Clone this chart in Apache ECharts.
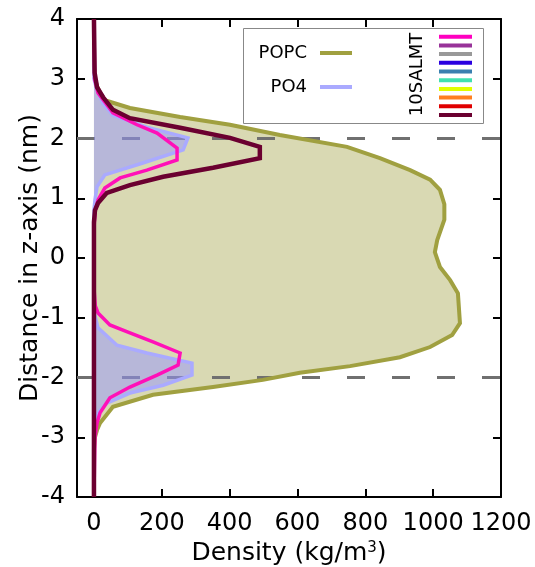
<!DOCTYPE html>
<html><head><meta charset="utf-8">
<script src="https://cdn.jsdelivr.net/npm/echarts@6/dist/echarts.min.js"></script>
<style>html,body{margin:0;padding:0;background:#fff}#c{width:535px;height:567px}</style>
</head><body><div id="c"></div>
<script>
// ---------- data ----------
const popcZ = [4.0, 3.2, 3.0, 2.88, 2.76, 2.64, 2.51, 2.36, 2.23, 2.06, 1.86, 1.67, 1.47, 1.31, 1.14, 0.9, 0.64, 0.3, 0.10, -0.15, -0.37, -0.59, -1.09, -1.29, -1.49, -1.66, -1.81, -1.92, -2.04, -2.16, -2.29, -2.49, -2.76, -2.88, -3.0, -3.2, -4.0];
const popcD = [0, 0, 3, 9, 18, 32, 106, 254, 401, 548, 746, 843, 932, 991, 1020, 1033, 1033, 1012, 1005, 1020, 1050, 1073, 1079, 1056, 991, 902, 755, 607, 498, 351, 174, 56, 18, 9, 3, 0, 0];

const po4Z = [4.0, 3.0, 2.81, 2.6, 2.39, 2.19, 2.01, 1.81, 1.59, 1.39, 1.19, 0.97, 0.8, 0.5, 0.0, -0.5, -0.9, -1.17, -1.46, -1.59, -1.76, -1.96, -2.13, -2.26, -2.43, -2.59, -2.8, -3.0, -4.0];
const po4D = [0, 0, 9, 25, 56, 156, 277, 263, 144, 32, 9, 3, 0, 0, 0, 0, 0, 12, 68, 156, 289, 289, 204, 106, 38, 12, 3, 0, 0];

const saltFirstZ = [4.0, 3.0, 2.76, 2.43, 2.23, 2.09, 1.84, 1.64, 1.47, 1.34, 1.17, 0.97, 0.8, 0.5, 0.0, -0.5, -0.8, -0.92, -1.12, -1.255, -1.405, -1.59, -1.79, -1.96, -2.16, -2.34, -2.59, -2.76, -3.0, -4.0];
const saltFirstD = [0, 2, 12, 56, 127, 186, 245, 245, 156, 77, 32, 12, 4, 0, 0, 0, 4, 12, 47, 106, 174, 254, 248, 186, 106, 47, 18, 9, 3, 0];

const saltLastZ = [4.0, 3.1, 2.86, 2.69, 2.48, 2.34, 2.18, 2.01, 1.86, 1.67, 1.51, 1.36, 1.22, 1.09, 0.92, 0.8, 0.6, 0.0, -4.0];
const saltLastD = [0, 2, 9, 27, 56, 106, 254, 401, 489, 489, 351, 204, 106, 38, 12, 3, 0, 0, 0];

const xTicks = [0, 200, 400, 600, 800, 1000, 1200];
const xRange = [-50, 1200];
const yRange = [-4, 4];
const guideZ = [2, -2];
const legendNames = ['POPC', 'PO4'];
const saltTitle = '10SALMT';
// styles
const saltColors = ['#ff00c0', '#983399', '#999999', '#2a00e0', '#3a80b0', '#40e0b0', '#e0ff00', '#ff8020', '#e00000', '#6b0030'];
const FONT = '"DejaVu Sans", sans-serif';

const pairs = (xs, zs) => zs.map((z, i) => [xs[i], z]);

function fillSeries(name, xs, zs, color, z) {
  const pts = pairs(xs, zs);
  return {
    type: 'custom', name: name, z: z, silent: true,
    coordinateSystem: 'cartesian2d',
    encode: { x: 0, y: 1 },
    data: pts,
    renderItem: function (params, api) {
      if (params.dataIndex !== 0) return null;
      const poly = [api.coord([0, zs[0]])]
        .concat(pts.map(p => api.coord(p)))
        .concat([api.coord([0, zs[zs.length - 1]])]);
      return { type: 'polygon', shape: { points: poly }, style: { fill: color } };
    }
  };
}
function lineSeries(name, xs, zs, color, width, z) {
  return {
    type: 'line', name: name, z: z, data: pairs(xs, zs), color: color,
    symbol: 'none', smooth: false, silent: true, animation: false,
    lineStyle: { color: color, width: width, join: 'miter' }
  };
}

const axisLineStyle = { onZero: false, lineStyle: { color: '#000', width: 2 } };
const tickStyle = { inside: true, length: 8, lineStyle: { color: '#000', width: 2 } };
const labelStyle = { fontSize: 24, color: '#000', fontFamily: FONT, formatter: v => String(v),
  showMinLabel: true, showMaxLabel: true, hideOverlap: false };

const chart = echarts.init(document.getElementById('c'), null, { renderer: 'canvas' });
const series = [
  fillSeries('POPC fill', popcD, popcZ, '#d9d9b3', 1),
  fillSeries('PO4 fill', po4D, po4Z, 'rgba(150,150,255,0.5)', 3),
  lineSeries('POPC', popcD, popcZ, '#a0a040', 4, 4),
  lineSeries('PO4', po4D, po4Z, '#aaaaff', 3.5, 5),
  lineSeries('10SALMT-1', saltFirstD, saltFirstZ, '#ff10b8', 3.5, 6),
  lineSeries('10SALMT-10', saltLastD, saltLastZ, '#6b0030', 4.5, 7)
];
guideZ.forEach((g, i) => {
  series.push({
    type: 'line', name: 'guide' + i, z: 2, silent: true, symbol: 'none',
    data: xRange.map(x => [x, g]),
    lineStyle: { color: '#707070', width: 3, type: [18, 27] }
  });
});

const legendCommon = {
  orient: 'vertical', align: 'right', icon: 'rect', itemWidth: 32, itemHeight: 4,
  padding: 0, selectedMode: false,
  textStyle: { fontSize: 18, fontFamily: FONT, color: '#000', padding: [0, 8, 0, 0] }
};

const graphic = [
  { type: 'rect', left: 243, top: 28, z: 50, shape: { width: 240, height: 95 },
    style: { fill: '#fff', stroke: '#888', lineWidth: 1 } },
  { type: 'text', x: 417, y: 74.5, rotation: Math.PI / 2, z: 60,
    style: { text: saltTitle, fill: '#000', font: '18px ' + FONT, align: 'center', verticalAlign: 'middle' } }
];
saltColors.forEach((c, i) => {
  graphic.push({ type: 'rect', x: 439, y: 34.7 + i * 8.7, z: 60,
    shape: { width: 33, height: 4 }, style: { fill: c } });
});

chart.setOption({
  animation: false,
  backgroundColor: '#fff',
  grid: { left: 77, right: 34, top: 19, bottom: 70, containLabel: false, outerBoundsMode: 'none' },
  xAxis: [
    { type: 'value', position: 'bottom', min: xRange[0], max: xRange[1],
      splitLine: { show: false }, axisLine: axisLineStyle,
      axisTick: Object.assign({ customValues: xTicks }, tickStyle),
      axisLabel: Object.assign({ customValues: xTicks, margin: 15 }, labelStyle),
      name: 'Density (kg/m{sup|3})', nameLocation: 'middle', nameGap: 43,
      nameTextStyle: { fontSize: 25, fontFamily: FONT, color: '#000',
        rich: { sup: { fontSize: 15, fontFamily: FONT, color: '#000', verticalAlign: 'top', lineHeight: 14 } } } },
    { type: 'value', position: 'top', min: xRange[0], max: xRange[1],
      splitLine: { show: false }, axisLine: axisLineStyle,
      axisTick: Object.assign({ customValues: xTicks }, tickStyle),
      axisLabel: { show: false } }
  ],
  yAxis: [
    { type: 'value', position: 'left', min: yRange[0], max: yRange[1], interval: 1,
      splitLine: { show: false }, axisLine: axisLineStyle, axisTick: tickStyle,
      axisLabel: Object.assign({ margin: 12 }, labelStyle),
      name: 'Distance in z-axis (nm)', nameLocation: 'middle', nameGap: 34, nameRotate: 90,
      nameMoveOverlap: false,
      nameTextStyle: { fontSize: 25, fontFamily: FONT, color: '#000' } },
    { type: 'value', position: 'right', min: yRange[0], max: yRange[1], interval: 1,
      splitLine: { show: false }, axisLine: axisLineStyle, axisTick: tickStyle,
      axisLabel: { show: false } }
  ],
  legend: [
    Object.assign({ data: [legendNames[0]], right: 183, top: 44, z: 70 }, legendCommon),
    Object.assign({ data: [legendNames[1]], right: 183, top: 78, z: 70 }, legendCommon)
  ],
  graphic: graphic,
  series: series
});
</script></body></html>
